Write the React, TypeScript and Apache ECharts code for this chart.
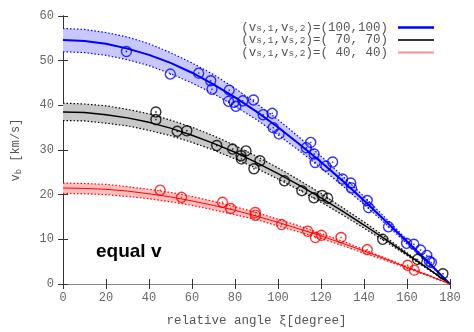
import React, { useEffect, useRef } from "react";
import * as echarts from "echarts";

// Angles (degrees) at which fit curves are read
const ANGLES = [0, 10, 20, 30, 40, 50, 60, 70, 80, 90, 100, 110, 120, 130, 140, 150, 160, 170, 180];

// Fit curves and confidence bands
const BLUE_FIT = [54.6, 54.4, 53.8, 52.7, 51.3, 49.5, 47.3, 44.7, 41.8, 38.6, 35.1, 31.3, 27.3, 23.1, 18.7, 14.1, 9.5, 4.8, 0];
const BLUE_UP = [57.2, 57.0, 56.3, 55.3, 53.8, 51.8, 49.5, 46.9, 43.8, 40.4, 36.8, 32.8, 28.6, 24.2, 19.6, 14.8, 9.9, 5.0, 0];
const BLUE_LO = [52.0, 51.8, 51.2, 50.2, 48.9, 47.1, 45.0, 42.6, 39.8, 36.8, 33.4, 29.8, 26.0, 22.0, 17.8, 13.5, 9.0, 4.5, 0];

const BLACK_FIT = [38.5, 38.4, 37.9, 37.2, 36.2, 34.9, 33.3, 31.5, 29.5, 27.2, 24.7, 22.1, 19.3, 16.3, 13.2, 10.0, 6.7, 3.4, 0];
const BLACK_UP = [40.5, 40.3, 39.9, 39.1, 38.1, 36.7, 35.1, 33.2, 31.0, 28.6, 26.0, 23.2, 20.3, 17.1, 13.9, 10.5, 7.0, 3.5, 0];
const BLACK_LO = [36.6, 36.5, 36.0, 35.4, 34.4, 33.2, 31.7, 30.0, 28.0, 25.9, 23.5, 21.0, 18.3, 15.5, 12.5, 9.5, 6.4, 3.2, 0];

const RED_FIT = [21.5, 21.4, 21.2, 20.8, 20.2, 19.5, 18.6, 17.6, 16.5, 15.2, 13.8, 12.3, 10.8, 9.1, 7.4, 5.6, 3.7, 1.9, 0];
const RED_UP = [22.6, 22.5, 22.3, 21.8, 21.2, 20.5, 19.6, 18.5, 17.3, 16.0, 14.5, 13.0, 11.3, 9.6, 7.7, 5.8, 3.9, 2.0, 0];
const RED_LO = [20.3, 20.2, 20.0, 19.6, 19.1, 18.4, 17.6, 16.6, 15.5, 14.4, 13.0, 11.6, 10.2, 8.6, 6.9, 5.3, 3.5, 1.8, 0];

// Measured points [angle, v_b]
const BLUE_PTS = [
  [29.5, 52.05], [49.9, 47.0], [63.1, 47.2], [68.7, 45.5], [69.3, 43.6], [77.3, 43.4], [77.0, 40.9],
  [79.6, 40.7], [80.4, 39.8], [83.6, 41.0], [88.6, 41.2], [93.1, 37.9], [97.3, 38.2], [97.8, 35.0],
  [100.5, 33.6], [113.2, 30.5], [115.2, 31.7], [116.8, 29.1], [117.3, 27.2], [122.3, 26.4], [125.4, 27.3],
  [130.0, 23.5], [133.8, 22.6], [134.2, 21.5], [141.5, 18.7], [142.1, 17.1], [151.4, 12.8], [159.8, 9.1],
  [163.2, 8.9], [166.3, 7.6], [169.2, 6.4], [170.4, 5.1], [171.3, 4.8],
];
const BLACK_PTS = [
  [43.2, 38.5], [43.2, 36.8], [53.1, 34.2], [57.6, 34.3], [71.5, 31.0], [78.9, 30.2], [85.1, 29.8],
  [82.8, 28.7], [83.0, 28.0], [91.6, 27.6], [88.8, 25.8], [103.0, 23.1], [111.1, 20.9], [116.7, 19.3],
  [120.5, 19.8], [123.1, 19.2], [148.7, 10.0], [164.9, 5.5], [176.7, 2.3],
];
const RED_PTS = [
  [45.2, 21.0], [55.1, 19.4], [74.2, 18.3], [78.0, 16.9], [89.4, 16.0], [89.5, 15.4], [101.7, 13.3],
  [113.8, 11.8], [117.4, 10.4], [120.2, 10.9], [129.3, 10.4], [141.5, 7.7], [160.3, 4.2], [163.4, 3.1],
];

const X_TICKS = { min: 0, max: 180, interval: 20 };
const Y_TICKS = { min: 0, max: 60, interval: 10 };

const LEGEND_VALUES = ["(100,100)", "( 70, 70)", "( 40, 40)"];
const LEGEND_COLORS = ["#0000ff", "#333333", "#f49090"];

const MONO = "'Courier New', 'Liberation Mono', monospace";

function pairs(ys: number[]) {
  return ANGLES.map((a, i) => [a, ys[i]]);
}

function bandSeries(lo: number[], up: number[], fill: string) {
  return {
    type: "custom",
    silent: true,
    z: 1,
    data: [0],
    renderItem: (_params: any, api: any) => {
      const pts: number[][] = [];
      ANGLES.forEach((a, i) => pts.push(api.coord([a, up[i]])));
      for (let i = ANGLES.length - 1; i >= 0; i--) pts.push(api.coord([ANGLES[i], lo[i]]));
      return { type: "polygon", shape: { points: pts }, style: { fill } };
    },
  };
}

function dotted(ys: number[], color: string) {
  return {
    type: "line", data: pairs(ys), symbol: "none", silent: true, z: 3,
    lineStyle: { color, width: 1.2, type: [1.5, 2] },
  };
}

function fit(ys: number[], color: string, width: number) {
  return {
    type: "line", data: pairs(ys), symbol: "none", silent: true, z: 4,
    lineStyle: { color, width },
  };
}

function pts(data: number[][], color: string) {
  return [
    {
      type: "scatter", data, symbol: "circle", symbolSize: 10, z: 5,
      itemStyle: { color: "rgba(0,0,0,0)", borderColor: color, borderWidth: 1.4 },
    },
    {
      type: "scatter", data, symbol: "circle", symbolSize: 1.6, z: 6,
      itemStyle: { color },
    },
  ];
}

export default function App() {
  const ref = useRef<HTMLDivElement>(null);
  useEffect(() => {
    if (!ref.current) return;
    const chart = echarts.init(ref.current, null, { renderer: "svg" });
    const axisCommon = {
      type: "value",
      splitLine: { show: false },
      axisTick: { inside: true, length: 5, lineStyle: { color: "#333" } },
    };
    const gfx: any[] = [];
    const ly = [27.5, 40, 52.5];
    LEGEND_VALUES.forEach((v, i) => {
      gfx.push({
        type: "text",
        x: 388,
        y: ly[i],
        z: 100,
        style: {
          text: "{m|(v}{s|s,1}{m|,v}{s|s,2}{m|)=" + v + "}",
          align: "right",
          verticalAlign: "middle",
          fill: "#555",
          rich: {
            m: { fontFamily: MONO, fontSize: 12.5, fill: "#555", lineHeight: 11 },
            s: { fontFamily: MONO, fontSize: 9.5, fill: "#555", lineHeight: 11, padding: [4, 0, 0, 0], verticalAlign: "bottom" },
          },
        },
      });
      gfx.push({
        type: "line",
        z: 100,
        shape: { x1: 398, y1: ly[i], x2: 434, y2: ly[i] },
        style: { stroke: LEGEND_COLORS[i], lineWidth: i === 0 ? 2.4 : i === 1 ? 2.1 : 1.8 },
      });
    });
    gfx.push({
      type: "text",
      x: 96,
      y: 241,
      z: 100,
      style: {
        text: "equal v",
        fontFamily: "'Liberation Sans', Arial, sans-serif",
        fontWeight: "bold",
        fontSize: 19,
        fill: "#000",
        verticalAlign: "alphabetic",
      },
    });

    chart.setOption({
      animation: false,
      grid: { left: 57, right: 24, top: 16, bottom: 42 },
      xAxis: [
        {
          ...axisCommon, ...X_TICKS,
          axisLine: { lineStyle: { color: "#333", width: 1 } },
          axisLabel: { color: "#666", fontFamily: MONO, fontSize: 12, margin: 8 },
          name: "relative angle ξ[degree]",
          nameLocation: "middle",
          nameGap: 30,
          nameTextStyle: { color: "#555", fontFamily: MONO, fontSize: 12.5 },
        },
        {
          ...axisCommon, ...X_TICKS, position: "top",
          axisLine: { lineStyle: { color: "#888", width: 1 } },
          axisLabel: { show: false },
        },
      ],
      yAxis: [
        {
          ...axisCommon, ...Y_TICKS,
          axisLine: { show: true, lineStyle: { color: "#000", width: 1 } },
          axisLabel: { color: "#666", fontFamily: MONO, fontSize: 12, margin: 9 },
          name: "{m|v}{s|b}{m| [km/s]}",
          nameLocation: "middle",
          nameGap: 40,
          nameTextStyle: {
            color: "#555",
            rich: {
              m: { fontFamily: MONO, fontSize: 12, color: "#555", lineHeight: 14 },
              s: { fontFamily: MONO, fontSize: 9, color: "#555", lineHeight: 14, padding: [6, 0, 0, 0], verticalAlign: "bottom" },
            },
          },
        },
        {
          ...axisCommon, ...Y_TICKS, position: "right",
          axisLine: { show: true, lineStyle: { color: "#333", width: 1 } },
          axisLabel: { show: false },
        },
      ],
      series: [
        bandSeries(BLUE_LO, BLUE_UP, "rgb(200,200,255)"),
        bandSeries(BLACK_LO, BLACK_UP, "rgb(200,200,200)"),
        bandSeries(RED_LO, RED_UP, "rgb(255,190,190)"),
        dotted(BLUE_UP, "#0000ff"), dotted(BLUE_LO, "#0000ff"),
        dotted(BLACK_UP, "#000"), dotted(BLACK_LO, "#000"),
        dotted(RED_UP, "#ff0000"), dotted(RED_LO, "#ff0000"),
        fit(BLUE_FIT, "#0000ff", 2),
        fit(BLACK_FIT, "#000", 1.4),
        fit(RED_FIT, "#ff0000", 1),
        ...pts(BLUE_PTS, "#0000ff"),
        ...pts(BLACK_PTS, "#000"),
        ...pts(RED_PTS, "#ff0000"),
      ],
      graphic: gfx,
    });
    return () => chart.dispose();
  }, []);
  return <div ref={ref} style={{ position: "fixed", left: 0, top: 0, width: 474, height: 332 }} />;
}
